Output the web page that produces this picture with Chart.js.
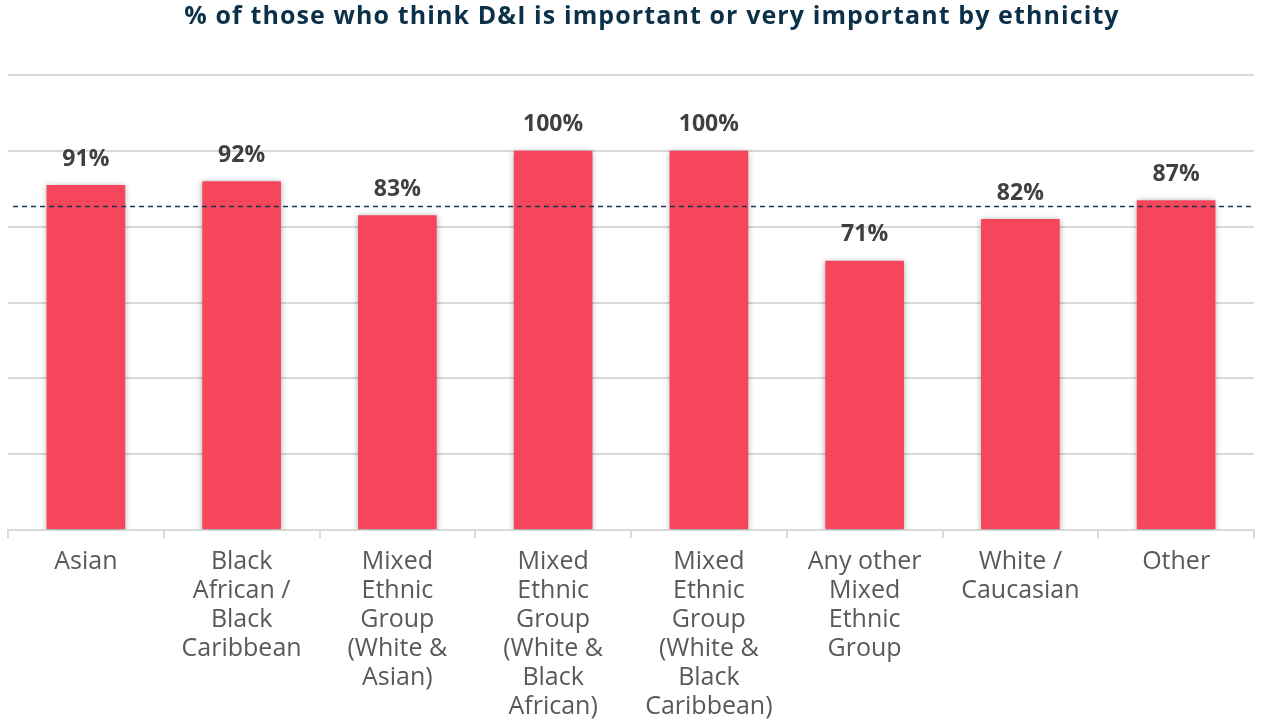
<!DOCTYPE html>
<html>
<head>
<meta charset="utf-8">
<script src="https://cdn.jsdelivr.net/npm/chart.js@4/dist/chart.umd.min.js"></script>
<style>
  html, body { margin: 0; padding: 0; background: #ffffff; }
  #wrap { width: 1264px; height: 724px; position: relative; }
</style>
</head>
<body>
<div id="wrap"><canvas id="chart"></canvas></div>
<script>
// Ethnic groups (multi-line axis labels)
const categories = [
  ["Asian"],
  ["Black", "African /", "Black", "Caribbean"],
  ["Mixed", "Ethnic", "Group", "(White &", "Asian)"],
  ["Mixed", "Ethnic", "Group", "(White &", "Black", "African)"],
  ["Mixed", "Ethnic", "Group", "(White &", "Black", "Caribbean)"],
  ["Any other", "Mixed", "Ethnic", "Group"],
  ["White /", "Caucasian"],
  ["Other"]
];

// Share rating D&I as important or very important (%)
const importantShare = [91, 92, 83, 100, 100, 71, 82, 87];

// Overall level across all respondents (%)
const overallAverage = 85.5;

const titleText = "% of those who think D&I is important or very important by ethnicity";

const FONT = "'Open Sans', 'DejaVu Sans', sans-serif";

// Soft drop shadow behind the bars
const barShadow = {
  id: 'barShadow',
  beforeDatasetDraw(chart) {
    const ctx = chart.ctx;
    ctx.save();
    ctx.shadowColor = 'rgba(0,0,0,0.35)';
    ctx.shadowBlur = 6;
    ctx.shadowOffsetX = 0;
    ctx.shadowOffsetY = 1;
  },
  afterDatasetDraw(chart) {
    chart.ctx.restore();
  }
};

// Heading drawn in the reserved top padding
const heading = {
  id: 'heading',
  afterDraw(chart) {
    const ctx = chart.ctx;
    ctx.save();
    ctx.fillStyle = '#0b3048';
    ctx.font = `bold 25px ${FONT}`;
    ctx.letterSpacing = '1.1px';
    ctx.textAlign = 'center';
    ctx.textBaseline = 'middle';
    ctx.fillText(titleText, 652, 17);
    ctx.restore();
  }
};

// Dashed reference line and value labels above each bar
const overlay = {
  id: 'overlay',
  afterDatasetsDraw(chart) {
    const ctx = chart.ctx;
    const y = chart.scales.y.getPixelForValue(overallAverage);
    const area = chart.chartArea;
    ctx.save();
    ctx.strokeStyle = '#1b3550';
    ctx.lineWidth = 1.3;
    ctx.setLineDash([5, 4]);
    ctx.beginPath();
    ctx.moveTo(area.left + 5, Math.round(y) + 0.5);
    ctx.lineTo(area.right - 2, Math.round(y) + 0.5);
    ctx.stroke();
    ctx.setLineDash([]);

    const meta = chart.getDatasetMeta(0);
    ctx.fillStyle = '#404040';
    ctx.font = `bold 23px ${FONT}`;
    ctx.textAlign = 'center';
    ctx.textBaseline = 'middle';
    meta.data.forEach((bar, i) => {
      ctx.fillText(importantShare[i] + '%', bar.x, bar.y - 26);
    });
    ctx.restore();
  }
};

new Chart(document.getElementById('chart'), {
  type: 'bar',
  data: {
    labels: categories,
    datasets: [{
      data: importantShare,
      backgroundColor: '#f5465c',
      borderWidth: 0,
      categoryPercentage: 1,
      barPercentage: 0.505
    }]
  },
  options: {
    responsive: true,
    maintainAspectRatio: false,
    animation: false,
    layout: { padding: { left: 8, right: 10, top: 75, bottom: 3 } },
    plugins: {
      legend: { display: false },
      tooltip: { enabled: false },
      title: { display: false }
    },
    scales: {
      x: {
        offset: true,
        afterFit(scale) { scale.height -= 9; },
        grid: {
          offset: true,
          drawOnChartArea: false,
          drawTicks: true,
          tickLength: 8,
          color: '#d9d9d9',
          lineWidth: 2
        },
        border: { display: true, color: '#d9d9d9', width: 2 },
        ticks: {
          color: '#595959',
          font: { family: FONT, size: 25, lineHeight: 1.16 },
          padding: 9,
          maxRotation: 0,
          autoSkip: false
        }
      },
      y: {
        min: 0,
        max: 120,
        ticks: { display: false, stepSize: 20 },
        grid: { color: '#d9d9d9', lineWidth: 2, drawTicks: false },
        border: { display: false }
      }
    }
  },
  plugins: [barShadow, overlay, heading]
});
</script>
</body>
</html>
